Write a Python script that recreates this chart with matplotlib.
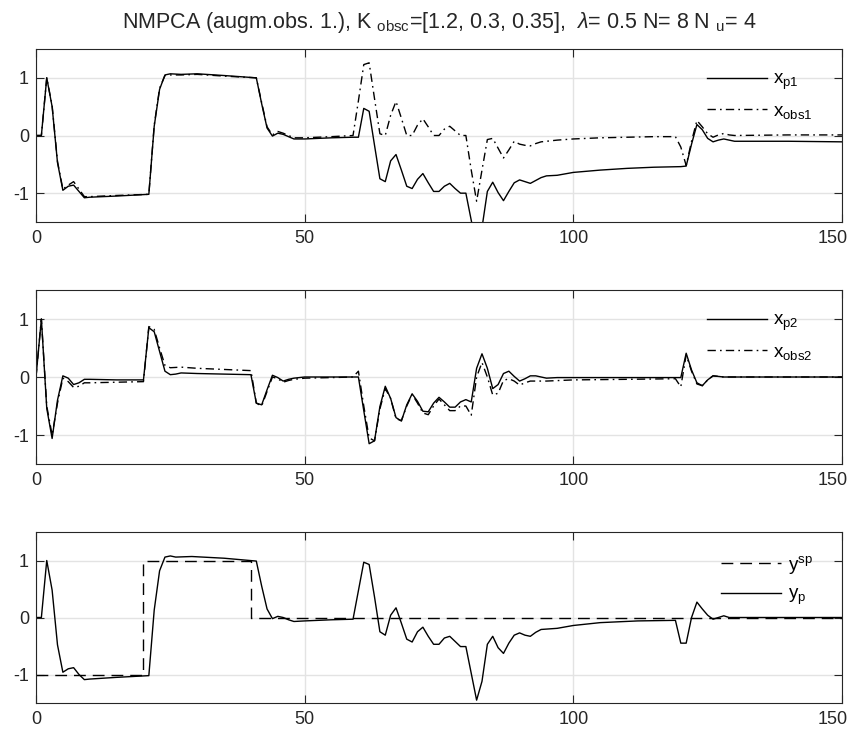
import matplotlib
matplotlib.use('Agg')
import matplotlib.pyplot as plt
from matplotlib.transforms import ScaledTranslation

plt.rcParams['font.family'] = ['Liberation Sans', 'DejaVu Sans']
plt.rcParams['mathtext.fontset'] = 'custom'
plt.rcParams['mathtext.rm'] = 'Liberation Sans'
plt.rcParams['mathtext.it'] = 'Liberation Sans:italic'
plt.rcParams['axes.unicode_minus'] = False

# ---- panel 1: state x1 (plant vs observer) ----
t_p1 = [0, 1, 2, 3, 4, 5, 6, 7, 8, 9, 10, 15, 21, 22, 23, 24, 25, 27, 30, 35,
        41, 42, 43, 44, 45, 46, 48, 50, 55, 59, 60, 61, 62, 63, 64, 65, 66, 67,
        68, 69, 70, 71, 72, 73, 74, 75, 76, 77, 78, 79, 80, 81, 82, 83, 84, 85,
        86, 87, 88, 89, 90, 91, 92, 93, 94, 95, 97, 100, 105, 110, 115, 120,
        121, 122, 123, 124, 125, 126, 127, 128, 129, 130, 140, 150]
x_p1 = [0, 0, 1.0, 0.5, -0.47, -0.95, -0.88, -0.86, -0.97, -1.08, -1.07, -1.05,
        -1.02, 0.16, 0.8, 1.05, 1.07, 1.06, 1.07, 1.04,
        1.0, 0.55, 0.13, -0.01, 0.04, 0.02, -0.06, -0.06, -0.04, -0.03, -0.03,
        0.47, 0.42, -0.17, -0.75, -0.8, -0.44, -0.33,
        -0.6, -0.88, -0.92, -0.76, -0.66, -0.82, -0.97, -0.97, -0.88, -0.83,
        -0.92, -1.0, -1.0, -1.47, -1.94, -1.6, -0.97, -0.81,
        -0.99, -1.13, -0.97, -0.82, -0.77, -0.8, -0.83, -0.78, -0.73, -0.70,
        -0.69, -0.64, -0.6, -0.57, -0.55, -0.54,
        -0.53, -0.15, 0.19, 0.1, -0.05, -0.11, -0.08, -0.06, -0.08, -0.1,
        -0.1, -0.11]

t_obs1 = [0, 1, 2, 3, 4, 5, 6, 7, 8, 9, 10, 15, 21, 22, 23, 24, 25, 27, 30, 35,
          41, 42, 43, 44, 45, 46, 48, 50, 55, 59, 60, 61, 62, 63, 64, 65, 66,
          67, 68, 69, 70, 71, 72, 73, 74, 75, 76, 77, 78, 79, 80, 81, 82, 83,
          84, 85, 86, 87, 88, 89, 90, 91, 92, 93, 94, 95, 97, 100, 105, 110,
          115, 119, 120, 121, 122, 123, 124, 125, 126, 127, 128, 129, 130,
          140, 150]
x_obs1 = [0, 0, 1.0, 0.52, -0.45, -0.93, -0.86, -0.8, -0.93, -1.06, -1.06,
          -1.04, -1.02, 0.18, 0.82, 1.04, 1.05, 1.05, 1.06, 1.03,
          1.0, 0.57, 0.15, 0.01, 0.07, 0.04, -0.04, -0.04, -0.02, 0.0, 0.6,
          1.23, 1.26, 0.64, 0.03, 0.0, 0.35,
          0.59, 0.3, 0.0, 0.0, 0.18, 0.29, 0.15, 0.0, 0.0, 0.11, 0.16, 0.08,
          0.0, 0.0, -0.6, -1.14, -0.6,
          -0.07, -0.05, -0.22, -0.39, -0.25, -0.1, -0.15, -0.17, -0.18, -0.14,
          -0.11, -0.1, -0.08, -0.06, -0.04, -0.03,
          -0.02, -0.02, -0.2, -0.52, -0.1, 0.26, 0.15, 0.03, -0.03, 0.01,
          0.035, 0.01, 0.0, 0.01, 0.01]

# ---- panel 2: state x2 (plant vs observer) ----
t_p2 = [0, 1, 2, 3, 4, 5, 6, 7, 8, 9, 10, 15, 20, 21, 22, 23, 24, 25, 26, 27,
        30, 35, 40, 41, 42, 43, 44, 45, 46, 47, 48, 50, 55, 60, 61, 62, 63, 64,
        65, 66, 67, 68, 69, 70, 71, 72, 73, 74, 75, 76, 77, 78, 79, 80, 81, 82,
        83, 84, 85, 86, 87, 88, 89, 90, 91, 92, 93, 95, 97, 100, 110, 120, 121,
        122, 123, 124, 125, 126, 127, 128, 130, 150]
x_p2 = [0, 1.0, -0.54, -1.06, -0.4, 0.02, -0.02, -0.13, -0.1, -0.04, -0.04,
        -0.05, -0.05, 0.85, 0.78, 0.44, 0.1, 0.04, 0.05, 0.07,
        0.06, 0.05, 0.04, -0.45, -0.48, -0.22, 0.03, -0.01, -0.07, -0.04,
        -0.02, 0.0, 0.0, 0.0, -0.58, -1.15, -1.1, -0.51,
        -0.16, -0.37, -0.7, -0.76, -0.48, -0.29, -0.42, -0.59, -0.6, -0.45,
        -0.35, -0.43, -0.52, -0.52, -0.43, -0.39, -0.43, 0.15,
        0.4, 0.15, -0.2, -0.13, 0.06, 0.1, 0.01, -0.07, -0.03, 0.02, 0.02,
        -0.02, -0.01, -0.01, -0.01, -0.01, 0.41,
        0.12, -0.1, -0.15, -0.05, 0.02, 0.01, 0.0, 0.0, 0.0]

t_obs2 = [0, 1, 2, 3, 4, 5, 6, 7, 8, 9, 10, 15, 20, 21, 22, 23, 24, 25, 27, 30,
          35, 40, 41, 42, 43, 44, 45, 46, 47, 48, 50, 55, 59, 60, 61, 62, 63,
          64, 65, 66, 67, 68, 69, 70, 71, 72, 73, 74, 75, 76, 77, 78, 79, 80,
          81, 82, 83, 84, 85, 86, 87, 88, 89, 90, 91, 92, 95, 100, 110, 119,
          120, 121, 122, 123, 124, 125, 126, 128, 150]
x_obs2 = [0, 1.0, -0.5, -1.0, -0.45, -0.02, -0.08, -0.18, -0.16, -0.1, -0.1,
          -0.09, -0.08, 0.87, 0.82, 0.5, 0.2, 0.16, 0.17, 0.15,
          0.13, 0.11, -0.45, -0.5, -0.25, 0.0, -0.03, -0.09, -0.06, -0.04,
          -0.02, -0.01, 0.0, 0.1, -0.5, -1.05, -1.1,
          -0.55, -0.2, -0.37, -0.72, -0.75, -0.5, -0.3, -0.45, -0.62, -0.65,
          -0.5, -0.38, -0.48, -0.58, -0.58, -0.5, -0.5,
          -0.66, 0.0, 0.25, 0.0, -0.31, -0.28, -0.06, -0.03, -0.07, -0.14,
          -0.1, -0.07, -0.07, -0.05, -0.04, -0.03,
          -0.17, 0.38, 0.1, -0.12, -0.15, -0.05, 0.02, 0.0, 0.0]

# ---- panel 3: output vs set point ----
sp_t = [0, 20, 40, 150]
y_sp = [-1, 1, 0, 0]

t_y = [0, 1, 2, 3, 4, 5, 6, 7, 8, 9, 10, 15, 21, 22, 23, 24, 25, 26, 29, 35,
       41, 42, 43, 44, 45, 46, 47, 48, 50, 55, 59, 60, 61, 62, 63, 64, 65, 66,
       67, 68, 69, 70, 71, 72, 73, 74, 75, 76, 77, 78, 79, 80, 81, 82, 83, 84,
       85, 86, 87, 88, 89, 90, 91, 92, 93, 94, 97, 100, 105, 112, 119, 120,
       121, 122, 123, 124, 125, 126, 127, 128, 129, 130, 150]
y_p = [0, 0, 1.0, 0.48, -0.48, -0.96, -0.9, -0.88, -1.0, -1.09, -1.08, -1.05,
       -1.02, 0.13, 0.82, 1.06, 1.08, 1.06, 1.07, 1.04,
       0.99, 0.55, 0.15, -0.02, 0.02, 0.0, -0.04, -0.07, -0.06, -0.04, -0.03,
       0.47, 0.97, 0.93, 0.36, -0.25, -0.31, 0.04,
       0.17, -0.1, -0.38, -0.43, -0.25, -0.17, -0.33, -0.47, -0.47, -0.36,
       -0.33, -0.42, -0.51, -0.51, -0.98, -1.45, -1.12, -0.47,
       -0.33, -0.53, -0.63, -0.45, -0.31, -0.27, -0.31, -0.33, -0.26, -0.21,
       -0.19, -0.14, -0.09, -0.06, -0.05, -0.45,
       -0.45, 0.0, 0.27, 0.15, 0.04, -0.03, 0.0, 0.03, 0.0, 0.0, 0.0]

title = (r'NMPCA (augm.obs. 1.), K $_{\rm obsc}$=[1.2, 0.3, 0.35],  '
         r'$\lambda$= 0.5 N= 8 N $_{\rm u}$= 4')

W, H = 861, 735
fig = plt.figure(figsize=(W / 100, H / 100), dpi=100)
boxes = [(49, 222), (290, 464), (532, 703)]
left, right = 36, 842
axes = []
for top, bot in boxes:
    ax = fig.add_axes([left / W, 1 - bot / H, (right - left) / W, (bot - top) / H])
    axes.append(ax)

dashdot = (0, (6, 3, 1.2, 3))
dashed = (0, (8.5, 5))

ax1, ax2, ax3 = axes
ax1.plot(t_p1, x_p1, color='k', lw=1.0, label=r'x$_{\rm p1}$')
ax1.plot(t_obs1, x_obs1, color='k', lw=1.0, ls=dashdot, label=r'x$_{\rm obs1}$')
ax2.plot(t_p2, x_p2, color='k', lw=1.0, label=r'x$_{\rm p2}$')
ax2.plot(t_obs2, x_obs2, color='k', lw=1.0, ls=dashdot, label=r'x$_{\rm obs2}$')
ax3.step(sp_t, y_sp, where='post', color='k', lw=1.0, ls=dashed, label=r'y$^{\rm sp}$')
ax3.plot(t_y, y_p, color='k', lw=1.0, label=r'y$_{\rm p}$')

shift = ScaledTranslation(-9 / 100, 0, fig.dpi_scale_trans)
for ax in axes:
    ax.set_xlim(0, 150)
    ax.set_ylim(-1.5, 1.5)
    ax.set_xticks([0, 50, 100, 150])
    ax.set_yticks([-1, 0, 1])
    ax.grid(True, color='#e3e3e3', lw=1.0)
    ax.set_axisbelow(True)
    ax.tick_params(direction='in', top=True, right=True, length=5.8,
                   width=0.8, labelsize=13, colors='#262626')
    ax.tick_params(axis='x', pad=6)
    ax.tick_params(axis='y', pad=5)
    for s in ax.spines.values():
        s.set_color('#262626')
        s.set_linewidth(0.8)
    ax.legend(loc='upper right', bbox_to_anchor=(0.973, 0.915), frameon=False,
              fontsize=13.5, handlelength=3.2, labelspacing=0.55,
              borderaxespad=0, handletextpad=0.35)
    last = ax.get_xticklabels()[-1]
    last.set_transform(last.get_transform() + shift)

ax1.set_title(title, fontsize=15.5, color='#262626', pad=15)

fig.savefig('out.png', dpi=100)
